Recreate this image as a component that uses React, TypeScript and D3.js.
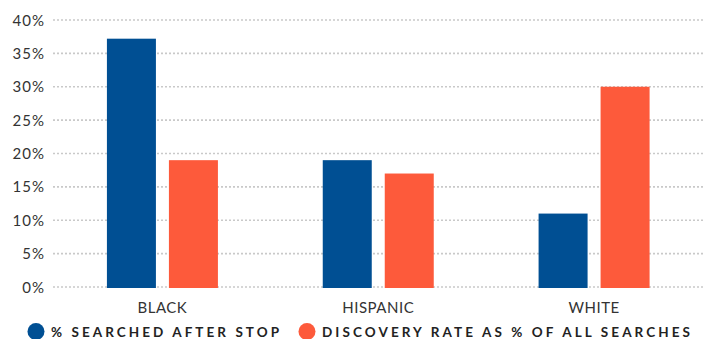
import React from "react";
import * as d3 from "d3";

// Search outcomes by race
const categories = ["BLACK", "HISPANIC", "WHITE"];
const searchedAfterStop = [37.2, 19, 11];
const discoveryRate = [19, 17, 30];
const yTicks = [0, 5, 10, 15, 20, 25, 30, 35, 40];
const seriesNames = ["% SEARCHED AFTER STOP", "DISCOVERY RATE AS % OF ALL SEARCHES"];
const seriesColors = ["#004f93", "#fd5a3b"];

const W = 712;
const H = 339;
const FONT = "Lato, 'Open Sans', sans-serif";

export default function App() {
  const x = d3.scaleBand<string>().domain(categories).range([54.5, 702]).padding(0);
  const y = d3.scaleLinear().domain([0, 40]).range([287, 20]);
  const barW = 49;
  const gap = 13;

  const series = [searchedAfterStop, discoveryRate];

  return (
    <svg
      width={W}
      height={H}
      style={{ position: "absolute", left: 0, top: 0, background: "#fff" }}
    >
      {/* gridlines and y tick labels */}
      {yTicks.map((t) => (
        <g key={t}>
          <line
            x1={53}
            x2={705}
            y1={y(t)}
            y2={y(t)}
            stroke="#c9c9c9"
            strokeWidth={1.6}
            strokeDasharray="2 2"
          />
          <text
            x={45}
            y={y(t) + 5.5}
            textAnchor="end"
            fontFamily={FONT}
            fontSize={15}
            letterSpacing={1}
            fill="#333"
          >
            {t}%
          </text>
        </g>
      ))}

      {/* bars */}
      {categories.map((c, i) => {
        const center = (x(c) ?? 0) + x.bandwidth() / 2;
        const left = center - barW - gap / 2;
        return series.map((vals, s) => (
          <rect
            key={c + s}
            x={left + s * (barW + gap)}
            y={y(vals[i])}
            width={barW}
            height={y(0) - y(vals[i]) + 1}
            fill={seriesColors[s]}
          />
        ));
      })}

      {/* category labels */}
      {categories.map((c) => (
        <text
          key={c}
          x={(x(c) ?? 0) + x.bandwidth() / 2}
          y={313}
          textAnchor="middle"
          fontFamily={FONT}
          fontSize={15}
          letterSpacing={0.5}
          fill="#333"
        >
          {c}
        </text>
      ))}

      {/* legend */}
      {[
        { cx: 36, tx: 51, len: 228 },
        { cx: 307, tx: 322, len: 368 },
      ].map((l, s) => (
        <g key={s}>
          <circle cx={l.cx} cy={331.5} r={8.5} fill={seriesColors[s]} />
          <text
            x={l.tx}
            y={336.5}
            fontFamily={FONT}
            fontSize={13.5}
            fontWeight={700}
            fill="#222"
            textLength={l.len}
            lengthAdjust="spacing"
          >
            {seriesNames[s]}
          </text>
        </g>
      ))}
    </svg>
  );
}
